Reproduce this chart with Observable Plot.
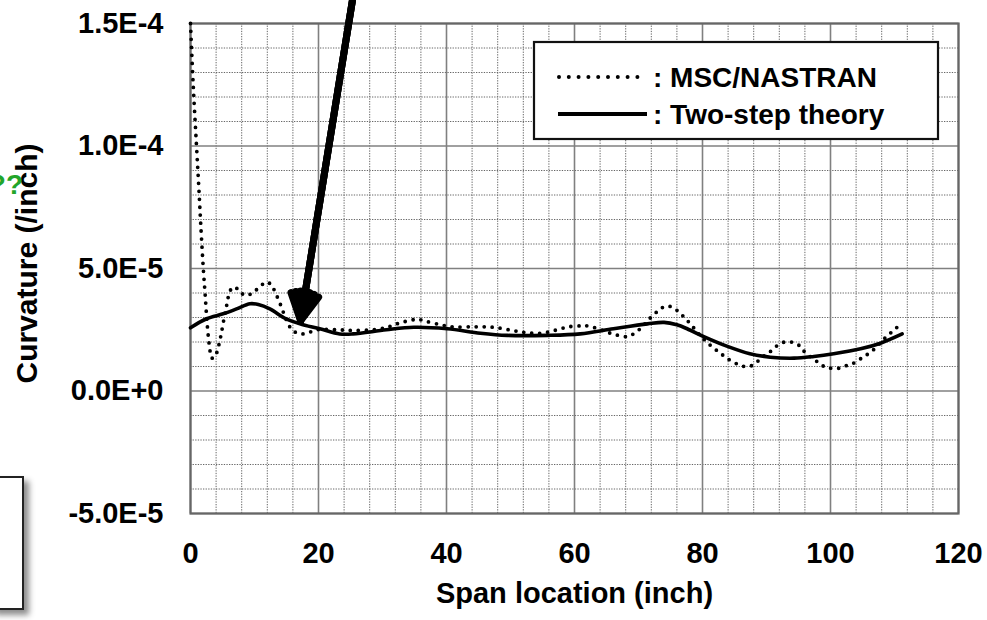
<!DOCTYPE html>
<html>
<head>
<meta charset="utf-8">
<script src="https://cdn.jsdelivr.net/npm/d3@7"></script>
<script src="https://cdn.jsdelivr.net/npm/@observablehq/plot@0.6"></script>
<style>
  body { margin: 0; background: #fff; }
  #wrap { position: relative; width: 987px; height: 620px; overflow: hidden;
          font-family: "Liberation Sans", Arial, sans-serif; font-weight: bold; }
  #wrap svg { position: absolute; left: 0; top: 0; }
  #qq { position: absolute; right: 964px; top: 171px; color: #22a52a; font-size: 28px; line-height: 1; white-space: nowrap; }
  #box { position: absolute; left: -10px; top: 476px; width: 30px; height: 130px; border: 2px solid #222;
         background: #fff; box-shadow: 5px 5px 6px rgba(0,0,0,0.45); }
</style>
</head>
<body>
<div id="wrap">
  <div id="qq">??</div>
  <div id="box"></div>
</div>
<script>
// MSC/NASTRAN (dotted) — span location (inch) and curvature (/inch)
const spanMsc = [0, 0.42, 0.94, 1.3, 1.6, 2.0, 2.3, 2.6, 3.0, 3.3, 3.8, 4.2, 4.7, 5.2, 5.7, 6.2, 6.9, 7.7, 8.6, 9.5,
  10.4, 11.9, 12.7, 13.2, 14.1, 14.9, 15.7, 16.6, 17.6, 18.6, 19.8, 22.9, 25.5, 28.6, 30.7, 32.5, 34.6, 35.7, 36.7, 38.8,
  40.8, 44.3, 47.4, 50.5, 52.6, 54.7, 57.0, 59.1, 61.2, 62.2, 64.1, 66.1, 68.2, 69.5, 70.8, 71.8, 73.2, 74.2, 75.3, 76.8,
  78.4, 79.8, 81.3, 82.8, 84.1, 85.8, 86.9, 87.9, 88.8, 89.6, 90.4, 91.1, 92.1, 93.0, 94.0, 95.0, 95.8, 97.3, 98.3, 99.2,
  100.2, 101.3, 102.3, 103.3, 104.4, 105.3, 106.2, 107.3, 108.2, 109.3, 110.1, 110.7];
const curvMsc = [15.0e-5, 12.5e-5, 10.0e-5, 8.3e-5, 6.8e-5, 5.0e-5, 3.9e-5, 2.75e-5, 1.75e-5, 1.35e-5, 1.38e-5, 1.65e-5, 2.2e-5, 2.9e-5, 3.55e-5, 4.1e-5, 4.25e-5, 4.05e-5, 3.9e-5, 3.97e-5,
  4.15e-5, 4.45e-5, 4.3e-5, 4.05e-5, 3.5e-5, 2.95e-5, 2.55e-5, 2.37e-5, 2.33e-5, 2.4e-5, 2.5e-5, 2.5e-5, 2.47e-5, 2.5e-5, 2.6e-5, 2.76e-5, 2.9e-5, 2.92e-5, 2.85e-5, 2.72e-5,
  2.62e-5, 2.62e-5, 2.6e-5, 2.46e-5, 2.38e-5, 2.35e-5, 2.48e-5, 2.62e-5, 2.66e-5, 2.65e-5, 2.5e-5, 2.32e-5, 2.22e-5, 2.38e-5, 2.68e-5, 2.97e-5, 3.3e-5, 3.46e-5, 3.42e-5, 3.1e-5,
  2.65e-5, 2.22e-5, 1.85e-5, 1.54e-5, 1.29e-5, 1.06e-5, 0.99e-5, 1.06e-5, 1.25e-5, 1.43e-5, 1.56e-5, 1.74e-5, 1.92e-5, 2.01e-5, 1.99e-5, 1.88e-5, 1.64e-5, 1.31e-5, 1.13e-5, 0.97e-5,
  0.93e-5, 0.93e-5, 1.02e-5, 1.1e-5, 1.26e-5, 1.43e-5, 1.56e-5, 1.84e-5, 2.08e-5, 2.35e-5, 2.52e-5, 2.69e-5];

// Two-step theory (solid)
const spanTwo = [0, 2.5, 5.1, 7.2, 9.3, 10.6, 12.4, 14.9, 17.1, 20.2, 23.3, 25.4, 30.6, 34.9, 40.1, 45.3, 49.5, 55.7,
  60.9, 66.1, 71.4, 74.0, 76.0, 77.6, 80.2, 83.9, 87.4, 90.6, 94.3, 97.4, 100.5, 104.7, 107.8, 111.2];
const curvTwo = [2.58e-5, 2.95e-5, 3.15e-5, 3.35e-5, 3.56e-5, 3.53e-5, 3.35e-5, 2.95e-5, 2.74e-5, 2.54e-5, 2.33e-5, 2.33e-5, 2.5e-5, 2.6e-5, 2.54e-5, 2.36e-5, 2.27e-5, 2.27e-5,
  2.33e-5, 2.54e-5, 2.74e-5, 2.8e-5, 2.7e-5, 2.54e-5, 2.22e-5, 1.82e-5, 1.52e-5, 1.38e-5, 1.34e-5, 1.41e-5, 1.52e-5, 1.72e-5, 1.95e-5, 2.33e-5];

const xTicks = [0, 20, 40, 60, 80, 100, 120];
const xTickLabels = ["0", "20", "40", "60", "80", "100", "120"];
const yTicks = [-5e-5, 0, 5e-5, 1e-4, 1.5e-4];
const yTickLabels = ["-5.0E-5", "0.0E+0", "5.0E-5", "1.0E-4", "1.5E-4"];
const xMinor = [4, 8, 12, 16, 24, 28, 32, 36, 44, 48, 52, 56, 64, 68, 72, 76, 84, 88, 92, 96, 104, 108, 112, 116];
const yMinor = [-4e-5, -3e-5, -2e-5, -1e-5, 1e-5, 2e-5, 3e-5, 4e-5, 6e-5, 7e-5, 8e-5, 9e-5, 11e-5, 12e-5, 13e-5, 14e-5];
const xTitle = "Span location (inch)";
const yTitle = "Curvature (/inch)";
const legendLabels = [": MSC/NASTRAN", ": Two-step theory"];
// annotation arrow (from above the plot down to the curve)
const arrowFrom = {x: 25.3, y: 1.594e-4};
const arrowTo = {x: 17.2, y: 2.86e-5};

const msc = spanMsc.map((x, i) => ({x, y: curvMsc[i]}));
const two = spanTwo.map((x, i) => ({x, y: curvTwo[i]}));
const arrowData = [{x1: arrowFrom.x, y1: arrowFrom.y, x2: arrowTo.x, y2: arrowTo.y}];

const font = "Liberation Sans, Arial, sans-serif";
const arrowOpts = (angle) => ({x1: "x1", y1: "y1", x2: "x2", y2: "y2", stroke: "#000", strokeWidth: 7, headLength: 6.4, headAngle: angle});

const chart = Plot.plot({
  width: 987, height: 620,
  marginLeft: 190, marginRight: 29, marginTop: 23, marginBottom: 107,
  x: {domain: [0, 120]},
  y: {domain: [-5e-5, 1.5e-4]},
  style: {fontFamily: font, fontWeight: "bold", fontSize: "29px", color: "#000", background: "transparent", overflow: "visible"},
  marks: [
    Plot.ruleX(xMinor, {stroke: "#666", strokeWidth: 1, strokeDasharray: "1.3,1.3"}),
    Plot.ruleY(yMinor, {stroke: "#666", strokeWidth: 1, strokeDasharray: "1.3,1.3"}),
    Plot.ruleX(xTicks, {stroke: "#808080", strokeWidth: 1.6}),
    Plot.ruleY(yTicks, {stroke: "#808080", strokeWidth: 1.6}),
    Plot.frame({stroke: "#666", strokeWidth: 2.2}),
    Plot.line(msc, {x: "x", y: "y", curve: "catmull-rom", stroke: "#000", strokeWidth: 3.8, strokeDasharray: "0 8", strokeLinecap: "round"}),
    Plot.line(two, {x: "x", y: "y", curve: "catmull-rom", stroke: "#000", strokeWidth: 3.6}),
    Plot.axisX({ticks: xTicks, tickSize: 0, tickPadding: 29, label: null, fontSize: 29, fontWeight: "bold",
      tickFormat: d => xTickLabels[xTicks.indexOf(d)]}),
    Plot.axisY({ticks: yTicks, tickSize: 0, tickPadding: 27, label: null, fontSize: 29, fontWeight: "bold",
      tickFormat: d => yTickLabels[yTicks.indexOf(d)]}),
    Plot.text([xTitle], {frameAnchor: "bottom", dy: 80, fontSize: 29, fontWeight: "bold", lineAnchor: "middle", textAnchor: "middle"}),
    Plot.text([yTitle], {frameAnchor: "left", dx: -163, dy: -5, rotate: -90, fontSize: 30, fontWeight: "bold", lineAnchor: "middle", textAnchor: "middle"}),
    Plot.arrow(arrowData, arrowOpts(56)),
    Plot.arrow(arrowData, arrowOpts(36)),
    Plot.arrow(arrowData, arrowOpts(18))
  ]
});
const wrap = document.getElementById("wrap");
wrap.insertBefore(chart, wrap.firstChild);

// Legend overlay
const leg = d3.select(wrap).append("svg")
  .attr("width", 408).attr("height", 101)
  .style("left", "532px").style("top", "40px").style("overflow", "visible");
leg.append("rect").attr("x", 2).attr("y", 2).attr("width", 404).attr("height", 97)
  .attr("fill", "#fff").attr("stroke", "#111").attr("stroke-width", 2.2);
leg.append("line").attr("x1", 27).attr("x2", 115).attr("y1", 37).attr("y2", 37)
  .attr("stroke", "#000").attr("stroke-width", 4).attr("stroke-dasharray", "0 9.8").attr("stroke-linecap", "round");
leg.append("line").attr("x1", 26).attr("x2", 115).attr("y1", 74).attr("y2", 74)
  .attr("stroke", "#000").attr("stroke-width", 4);
leg.selectAll("text.l").data(legendLabels).join("text")
  .attr("x", 121).attr("y", (d, i) => i === 0 ? 47 : 84)
  .attr("font-family", font).attr("font-weight", "bold").attr("font-size", 28)
  .text(d => d);
</script>
</body>
</html>
